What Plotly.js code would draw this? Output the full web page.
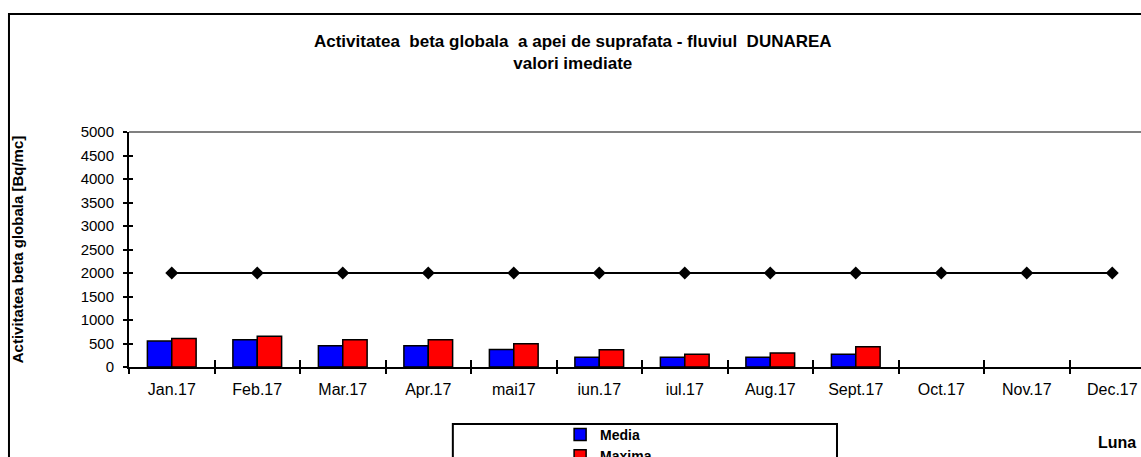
<!DOCTYPE html>
<html>
<head>
<meta charset="utf-8">
<script src="https://cdn.plot.ly/plotly-3.0.1.min.js"></script>
<style>html,body{margin:0;padding:0;background:#fff;}#chart{width:1141px;height:457px;}</style>
</head>
<body>
<div id="chart"></div>
<script>
const months = ["Jan.17","Feb.17","Mar.17","Apr.17","mai17","iun.17","iul.17","Aug.17","Sept.17","Oct.17","Nov.17","Dec.17"];
const media  = [552, 581, 453, 453, 375, 205, 205, 205, 269, null, null, null];
const maxima = [609, 652, 581, 581, 496, 368, 269, 297, 432, null, null, null];
const limita = [2000, 2000, 2000, 2000, 2000, 2000, 2000, 2000, 2000, 2000, 2000, 2000];
const yTicks = [0, 500, 1000, 1500, 2000, 2500, 3000, 3500, 4000, 4500, 5000];

const FONT = "Liberation Sans, Arial, sans-serif";
const xRange = [-0.5, 11.336];

const traces = [
  {type:"bar", name:"Media", x:months, y:media,
   marker:{color:"#0000FF", line:{color:"#000000", width:1.5}}},
  {type:"bar", name:"Maxima", x:months, y:maxima,
   marker:{color:"#FF0000", line:{color:"#000000", width:1.5}}},
  {type:"scatter", mode:"lines+markers", name:"Limita", x:months, y:limita,
   xaxis:"x2", yaxis:"y2", showlegend:false,
   line:{color:"#000000", width:2},
   marker:{symbol:"diamond", size:10, color:"#000000"}}
];

const layout = {
  width:1141, height:457,
  margin:{l:129, r:0, t:132, b:90},
  paper_bgcolor:"#ffffff", plot_bgcolor:"#ffffff",
  font:{family:FONT, color:"#000000", size:14},
  barmode:"group", bargap:0.43, bargroupgap:0,
  title:{text:"<b>Activitatea  beta globala  a apei de suprafata - fluviul  DUNAREA</b><br><b>valori imediate</b>",
         font:{family:FONT, size:17, color:"#000"},
         x:0.502, xref:"container", xanchor:"center",
         y:1-47/457, yref:"container", yanchor:"middle"},
  xaxis:{type:"category", categoryorder:"array", categoryarray:months, range:xRange,
         showline:true, linecolor:"#000", linewidth:2, showgrid:false, zeroline:false,
         ticks:"outside", ticklen:5, tickwidth:2, tickcolor:"#000", tickson:"boundaries",
         ticklabelstandoff:7, tickfont:{family:FONT, size:16}},
  xaxis2:{type:"category", categoryorder:"array", categoryarray:months, range:xRange,
          overlaying:"x", anchor:"y2", side:"bottom",
          showline:false, showgrid:false, zeroline:false,
          ticks:"inside", ticklen:7, tickwidth:2, tickcolor:"#000", tickson:"boundaries",
          showticklabels:false},
  yaxis:{range:[0,5000], tickvals:yTicks, showline:true, linecolor:"#000", linewidth:2,
         showgrid:false, zeroline:false, ticks:"outside", ticklen:4, tickwidth:2, tickcolor:"#000",
         ticklabelstandoff:6, tickfont:{family:FONT, size:15},
         title:{text:"<b>Activitatea beta globala [Bq/mc]</b>", font:{family:FONT, size:15}, standoff:53}},
  yaxis2:{range:[0,5000], tickvals:yTicks, overlaying:"y", anchor:"x2", side:"left",
          showline:false, showgrid:false, zeroline:false,
          ticks:"inside", ticklen:4, tickwidth:2, tickcolor:"#000", showticklabels:false},
  showlegend:true,
  legend:{x:0.426, xanchor:"left", xref:"paper", y:1-419/457, yref:"container", yanchor:"top", orientation:"v",
          bgcolor:"rgba(0,0,0,0)", borderwidth:0, tracegroupgap:0,
          font:{family:FONT, size:14, weight:"bold"}, itemwidth:30},
  shapes:[
    {type:"line", xref:"paper", yref:"paper", x0:0, x1:1, y0:1, y1:1, line:{color:"#808080", width:2}},
    {type:"rect", xref:"paper", yref:"paper", x0:-0.1186, x1:1.05, y0:-0.5, y1:1.502, line:{color:"#000", width:2}, layer:"below"},
    {type:"rect", xref:"paper", yref:"paper", x0:0.320, x1:0.6996, y0:-0.45, y1:-0.2426, line:{color:"#000", width:2}, layer:"below"}
  ],
  annotations:[
    {text:"<b>Luna</b>", xref:"paper", yref:"paper", x:0.976, y:-0.323, showarrow:false,
     xanchor:"center", yanchor:"middle", font:{family:FONT, size:16, color:"#000"}}
  ]
};

Plotly.newPlot("chart", traces, layout, {displayModeBar:false, staticPlot:true});
</script>
</body>
</html>
